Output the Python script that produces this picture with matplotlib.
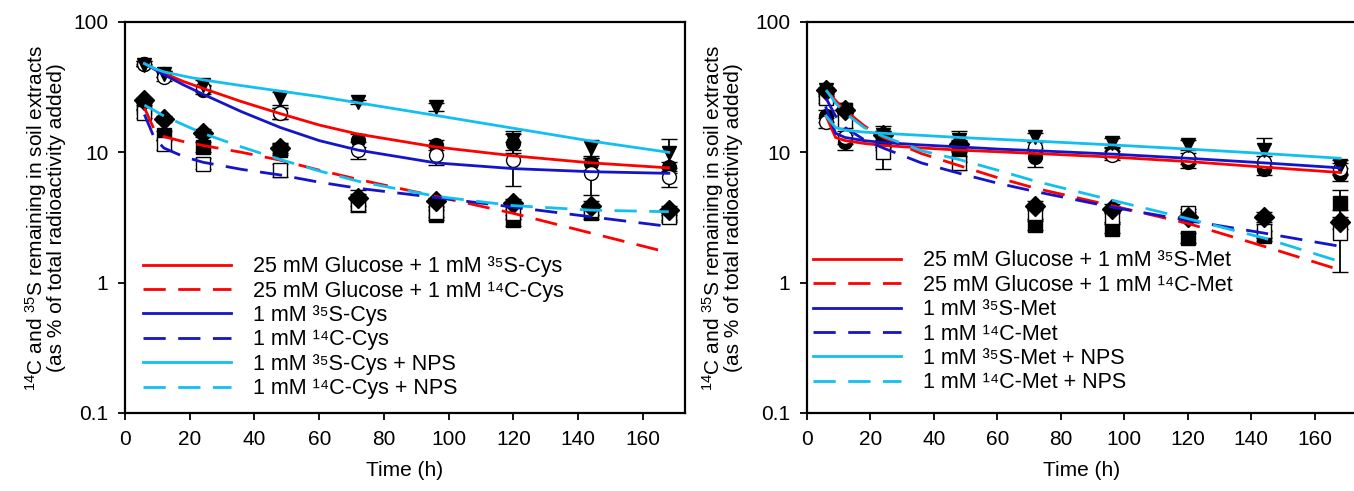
import matplotlib
matplotlib.use("Agg")
import matplotlib.pyplot as plt
from matplotlib.ticker import FixedLocator, FixedFormatter, NullLocator

plt.rcParams["font.family"] = ["Liberation Sans", "DejaVu Sans"]
plt.rcParams["mathtext.fontset"] = "custom"
plt.rcParams["mathtext.rm"] = "Liberation Sans"
plt.rcParams["mathtext.it"] = "Liberation Sans"

# %%
# Sampling times (h) and fitted curve times
hours = [6, 12, 24, 48, 72, 96, 120, 144, 168]
fit_hours = [6, 9, 12, 18, 24, 36, 48, 60, 72, 96, 120, 144, 168]

# Cysteine: measured values (% of added radioactivity) and errors
cys_glc_35s = [48, 40, 30, 20, 12.4, 11.4, 11.8, 8.3, 7.7]
cys_glc_35s_err = [2, 2, 2, 2, 1.5, 1.0, 2.0, 1.0, 0.8]
cys_35s = [48, 38, 31, 20, 10.4, 9.5, 8.7, 6.9, 6.5]
cys_35s_err = [2, 3, 2, 2, 1.5, 1.5, 3.2, 2.2, 1.1]
cys_nps_35s = [47, 40, 33, 26, 24.3, 22.3, 12.5, 10.8, 9.9]
cys_nps_35s_err = [1, 2, 3, 3, 1, 1.5, 2, 1.7, 2.7]
cys_glc_14c = [22, 13.5, 11, 10.5, 4.2, 3.3, 3.0, 3.4, 3.3]
cys_glc_14c_err = [1, 1, 1, 1, 0.6, 0.3, 0.3, 0.3, 0.3]
cys_14c = [20, 11.5, 8.2, 7.3, 4.0, 3.5, 3.4, 3.6, 3.2]
cys_14c_err = [1.5, 1, 0.8, 0.8, 0.5, 0.3, 0.3, 0.3, 0.3]
cys_nps_14c = [25, 18, 14, 10.8, 4.5, 4.2, 4.1, 3.9, 3.6]
cys_nps_14c_err = [1, 1, 1, 1, 0.6, 0.3, 0.3, 0.3, 0.3]

# Cysteine: fitted curves
cys_glc_35s_fit = [48, 44, 40.5, 35, 31, 24.5, 19.8, 16.2, 13.8, 11, 9.4, 8.3, 7.6]
cys_glc_14c_fit = [22, 15, 13.2, 12.1, 11.3, 10, 8.7, 7.3, 6.2, 4.6, 3.4, 2.4, 1.7]
cys_35s_fit = [48, 43.5, 39.5, 33, 28, 20.5, 15.5, 12.3, 10.4, 8.3, 7.5, 7.1, 6.9]
cys_14c_fit = [19.5, 13, 10.8, 9.3, 8.4, 7.4, 6.7, 5.9, 5.3, 4.5, 3.8, 3.2, 2.7]
cys_nps_35s_fit = [48, 44, 41.5, 38.5, 36, 32.5, 29.5, 26.8, 24, 19.2, 15.3, 12.2, 10]
cys_nps_14c_fit = [23, 21, 19, 16.3, 14, 11, 8.8, 7.2, 6.0, 4.6, 3.9, 3.6, 3.5]

# Methionine: measured values and errors
met_glc_35s = [19, 12, 13, 11.5, 9.2, 10, 8.4, 7.5, 6.8]
met_glc_35s_err = [2, 1.5, 1.5, 1.5, 1.5, 1, 0.8, 0.8, 0.8]
met_35s = [17, 13, 12, 11.3, 11, 9.5, 9, 8.5, 7.5]
met_35s_err = [1.5, 1.5, 1.5, 1, 1, 0.8, 0.8, 0.8, 0.8]
met_nps_35s = [30, 21, 13.5, 12.5, 13.1, 11.8, 11.4, 10.4, 7.8]
met_nps_35s_err = [1, 1, 2.5, 2, 1, 1, 1, 2.5, 1]
met_glc_14c = [28, 21, 12, 9.5, 2.75, 2.6, 2.2, 2.3, 4.1]
met_glc_14c_err = [1, 1, 1, 1, 0.2, 0.2, 0.2, 0.2, 1.0]
met_14c = [26, 17.5, 10, 8.3, 3.4, 3.2, 3.4, 2.5, 2.4]
met_14c_err = [2, 2, 2.5, 1, 0.3, 0.3, 0.3, 0.3, 1.2]
met_nps_14c = [30, 21, 13.5, 11.5, 3.9, 3.7, 3.2, 3.2, 2.9]
met_nps_14c_err = [1, 1, 1, 1, 0.3, 0.3, 0.3, 0.3, 0.3]

# Methionine: fitted curves
met_glc_35s_fit = [19, 13, 12.3, 11.7, 11.3, 10.8, 10.4, 10.1, 9.8, 9.2, 8.5, 7.7, 7.0]
met_glc_14c_fit = [30, 25, 21, 16, 13, 9.8, 7.9, 6.4, 5.3, 3.9, 2.85, 1.9, 1.25]
met_35s_fit = [22, 14, 13, 12.3, 11.9, 11.4, 11.0, 10.6, 10.3, 9.7, 9.0, 8.3, 7.6]
met_14c_fit = [26, 19, 15.5, 12.5, 10.8, 8.3, 6.9, 5.8, 5.0, 3.8, 3.0, 2.4, 1.9]
met_nps_35s_fit = [19, 15.5, 14.8, 14.3, 14.0, 13.5, 13.0, 12.6, 12.2, 11.4, 10.6, 9.8, 9.0]
met_nps_14c_fit = [30, 24, 20, 15.5, 13.3, 10.3, 8.8, 7.3, 6.0, 4.3, 3.1, 2.2, 1.45]

RED = "#ff0000"
BLUE = "#1414c8"
CYAN = "#12c0f0"
DASH = (0, (8, 4.5))


def draw_panel(ax, measured, fits, labels, legend_x, legend_y):
    # markers with error bars
    for vals, err, marker, face in measured:
        ax.errorbar(hours, vals, yerr=err, fmt=marker, color="black",
                    mfc=face, mec="black", ms=10, mew=1.0, ecolor="black",
                    elinewidth=1.3, capsize=5.5, capthick=1.3, zorder=2)
    # fitted curves
    for (vals, color, ls), label in zip(fits, labels):
        ax.plot(fit_hours, vals, color=color, ls=ls, lw=2.0, label=label,
                zorder=3)

    ax.set_yscale("log")
    ax.set_ylim(0.1, 100)
    ax.set_xlim(0, 173)
    ax.xaxis.set_major_locator(FixedLocator(range(0, 161, 20)))
    ax.yaxis.set_major_locator(FixedLocator([0.1, 1, 10, 100]))
    ax.yaxis.set_major_formatter(FixedFormatter(["0.1", "1", "10", "100"]))
    ax.yaxis.set_minor_locator(NullLocator())
    ax.tick_params(direction="out", length=5, width=1.3, labelsize=15, pad=7)
    for spine in ax.spines.values():
        spine.set_linewidth(1.6)
    ax.set_xlabel("Time (h)", fontsize=15, labelpad=9)
    ax.set_ylabel("$^{\\mathrm{14}}$C and $^{\\mathrm{35}}$S remaining in soil extracts\n"
                  "(as % of total radioactivity added)", fontsize=15,
                  linespacing=0.9)
    ax.legend(loc="lower left", bbox_to_anchor=(legend_x, legend_y),
              frameon=False, fontsize=15.5, handlelength=4.1,
              handletextpad=1.0, labelspacing=0.16, borderaxespad=0,
              borderpad=0)


fig = plt.figure(figsize=(13.54, 4.91), dpi=100)
ax_cys = fig.add_axes([0.0923, 0.1589, 0.4136, 0.7963])
ax_met = fig.add_axes([0.596, 0.1589, 0.4055, 0.7963])

draw_panel(
    ax_cys,
    [(cys_glc_35s, cys_glc_35s_err, "o", "black"),
     (cys_35s, cys_35s_err, "o", "white"),
     (cys_nps_35s, cys_nps_35s_err, "v", "black"),
     (cys_glc_14c, cys_glc_14c_err, "s", "black"),
     (cys_14c, cys_14c_err, "s", "white"),
     (cys_nps_14c, cys_nps_14c_err, "D", "black")],
    [(cys_glc_35s_fit, RED, "-"), (cys_glc_14c_fit, RED, DASH),
     (cys_35s_fit, BLUE, "-"), (cys_14c_fit, BLUE, DASH),
     (cys_nps_35s_fit, CYAN, "-"), (cys_nps_14c_fit, CYAN, DASH)],
    ["25 mM Glucose + 1 mM ³⁵S-Cys",
     "25 mM Glucose + 1 mM ¹⁴C-Cys",
     "1 mM ³⁵S-Cys",
     "1 mM ¹⁴C-Cys",
     "1 mM ³⁵S-Cys + NPS",
     "1 mM ¹⁴C-Cys + NPS"],
    0.032, 0.035,
)
draw_panel(
    ax_met,
    [(met_glc_35s, met_glc_35s_err, "o", "black"),
     (met_35s, met_35s_err, "o", "white"),
     (met_nps_35s, met_nps_35s_err, "v", "black"),
     (met_glc_14c, met_glc_14c_err, "s", "black"),
     (met_14c, met_14c_err, "s", "white"),
     (met_nps_14c, met_nps_14c_err, "D", "black")],
    [(met_glc_35s_fit, RED, "-"), (met_glc_14c_fit, RED, DASH),
     (met_35s_fit, BLUE, "-"), (met_14c_fit, BLUE, DASH),
     (met_nps_35s_fit, CYAN, "-"), (met_nps_14c_fit, CYAN, DASH)],
    ["25 mM Glucose + 1 mM ³⁵S-Met",
     "25 mM Glucose + 1 mM ¹⁴C-Met",
     "1 mM ³⁵S-Met",
     "1 mM ¹⁴C-Met",
     "1 mM ³⁵S-Met + NPS",
     "1 mM ¹⁴C-Met + NPS"],
    0.011, 0.05,
)

ax_cys.yaxis.set_label_coords(-0.105, 0.5)
ax_met.yaxis.set_label_coords(-0.116, 0.5)

fig.savefig("out.png", dpi=100)
